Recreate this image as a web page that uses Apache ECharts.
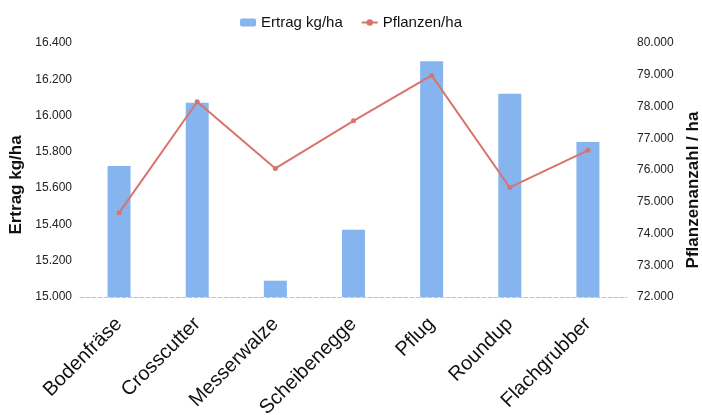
<!DOCTYPE html>
<html>
<head>
<meta charset="utf-8">
<script src="https://cdn.jsdelivr.net/npm/echarts@6/dist/echarts.min.js"></script>
<style>
html,body{margin:0;padding:0;background:#fff;}
#chart{width:702px;height:415px;}
</style>
</head>
<body>
<div id="chart"></div>
<script>
const categories = ['Bodenfräse','Crosscutter','Messerwalze','Scheibenegge','Pflug','Roundup','Flachgrubber'];
const ertrag = [15722, 16070, 15090, 15370, 16300, 16120, 15855];
const pflanzen = [74650, 78150, 76050, 77550, 78980, 75450, 76620];
const seriesNames = ['Ertrag kg/ha', 'Pflanzen/ha'];
const axisNames = ['Ertrag kg/ha', 'Pflanzenanzahl / ha'];

function fmt(v){ return String(v).replace(/\B(?=(\d{3})+(?!\d))/g, '.'); }

const chart = echarts.init(document.getElementById('chart'));
const FONT = 'Liberation Sans, Arial, sans-serif';
chart.setOption({
  backgroundColor: '#fff',
  textStyle: { fontFamily: FONT },
  legend: {
    top: 10, left: 'center',
    itemWidth: 16, itemHeight: 8, itemGap: 18,
    textStyle: { fontSize: 15, color: '#111', fontFamily: FONT },
    data: seriesNames
  },
  grid: { left: 80, right: 75, top: 43, bottom: 118, containLabel: false, outerBoundsMode: 'none' },
  xAxis: {
    type: 'category', data: categories,
    axisTick: { show: false },
    axisLine: { lineStyle: { color: '#c4c4c4', type: 'dashed', width: 1 } },
    axisLabel: { rotate: 45, fontSize: 20, color: '#111', margin: 24, fontFamily: FONT, interval: 0 }
  },
  yAxis: [
    {
      type: 'value', min: 15000, max: 16400, interval: 200,
      splitLine: { show: false }, axisLine: { show: false }, axisTick: { show: false },
      axisLabel: { fontSize: 12, color: '#222', margin: 8, formatter: fmt, fontFamily: FONT },
      name: axisNames[0], nameLocation: 'middle', nameRotate: 90, nameGap: 44,
      nameTextStyle: { fontSize: 17, fontWeight: 'bold', color: '#111', padding: [0, 30, 0, 0], fontFamily: FONT }
    },
    {
      type: 'value', min: 72000, max: 80000, interval: 1000, position: 'right',
      splitLine: { show: false }, axisLine: { show: false }, axisTick: { show: false },
      axisLabel: { fontSize: 12, color: '#222', margin: 10, formatter: fmt, fontFamily: FONT },
      name: axisNames[1], nameLocation: 'middle', nameRotate: 90, nameGap: 57,
      nameTextStyle: { fontSize: 17, fontWeight: 'bold', color: '#111', padding: [0, 40, 0, 0], fontFamily: FONT }
    }
  ],
  series: [
    {
      name: seriesNames[0], type: 'bar', data: ertrag, yAxisIndex: 0,
      barWidth: 23,
      itemStyle: { color: '#86b4ee' }
    },
    {
      name: seriesNames[1], type: 'line', data: pflanzen, yAxisIndex: 1,
      symbol: 'circle', symbolSize: 5,
      lineStyle: { color: '#d9736b', width: 2 },
      itemStyle: { color: '#d9736b' }
    }
  ],
  animation: false
});
</script>
</body>
</html>
